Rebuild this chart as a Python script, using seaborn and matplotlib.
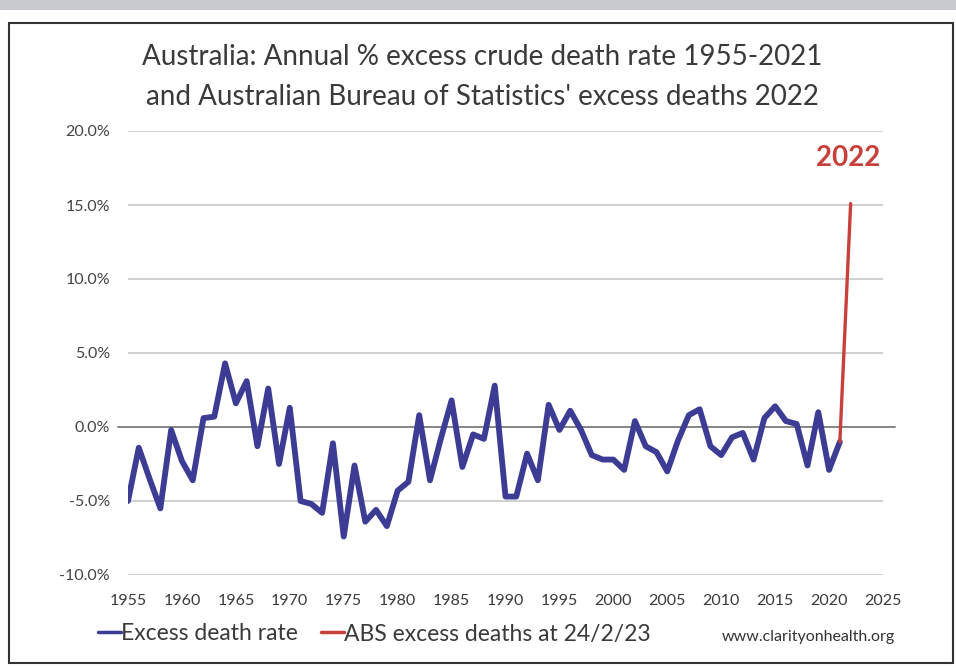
# australia excess death rate chart
# recreated with seaborn

import numpy as np
import pandas as pd
import matplotlib
matplotlib.use('Agg')
import matplotlib.pyplot as plt
import seaborn as sns
from matplotlib.patches import Rectangle

# data (percent)
years = list(range(1955, 2022))
excess_rate = [-5.0, -1.4, -3.5, -5.5, -0.2, -2.3, -3.6, 0.6, 0.7, 4.3,
               1.6, 3.1, -1.3, 2.6, -2.5, 1.3, -5.0, -5.2, -5.8, -1.1,
               -7.4, -2.6, -6.4, -5.6, -6.7, -4.3, -3.7, 0.8, -3.6, -0.8,
               1.8, -2.7, -0.5, -0.8, 2.8, -4.7, -4.7, -1.8, -3.6, 1.5,
               -0.2, 1.1, -0.2, -1.9, -2.2, -2.2, -2.9, 0.4, -1.3, -1.7,
               -3.0, -0.9, 0.8, 1.2, -1.3, -1.9, -0.7, -0.4, -2.2, 0.6,
               1.4, 0.4, 0.2, -2.6, 1.0, -2.9, -1.0]

abs_years = [2021, 2022]
abs_excess = [-1.0, 15.1]

y_ticks = [-10, -5, 0, 5, 10, 15, 20]
x_ticks = list(range(1955, 2030, 5))

blue = '#3d3c95'
red = '#c8403b'
grey_text = '#3a3a3a'

df_rate = pd.DataFrame({'year': years, 'value': excess_rate})
df_abs = pd.DataFrame({'year': abs_years, 'value': abs_excess})

sns.set_theme(style='white')
plt.rcParams['font.family'] = ['Lato', 'DejaVu Sans']

W, H = 956, 668
fig = plt.figure(figsize=(W / 100, H / 100), dpi=100)
fig.patch.set_facecolor('white')

# plot area in pixel terms
left, right, top, bottom = 128, 883, 131, 575
ax = fig.add_axes([left / W, 1 - bottom / H, (right - left) / W, (bottom - top) / H])
ax.set_facecolor('white')

sns.lineplot(data=df_rate, x='year', y='value', color=blue, linewidth=4.2,
             ax=ax, label='Excess death rate', solid_joinstyle='round',
             solid_capstyle='round', zorder=3)
sns.lineplot(data=df_abs, x='year', y='value', color=red, linewidth=2.4,
             ax=ax, label='ABS excess deaths at 24/2/23', zorder=4)

ax.set_xlim(1955, 2025)
ax.set_ylim(-10, 20)
ax.set_xticks(x_ticks)
ax.set_yticks(y_ticks)
ax.set_yticklabels([f'{v:.1f}%' for v in y_ticks])
ax.tick_params(axis='y', length=0, pad=13, labelsize=11.5, labelcolor='#444444')
ax.tick_params(axis='x', length=0, pad=14, labelsize=11.5, labelcolor='#3a3a3a')
ax.set_xlabel('')
ax.set_ylabel('')
for s in ax.spines.values():
    s.set_visible(False)

# gridlines, zero line darker and a bit longer
for v in y_ticks:
    if v != 0:
        ax.axhline(v, color='#d0d0d0', linewidth=1.4, zorder=1)
ax.plot([-0.013, 1.016], [0, 0], color='#858585', linewidth=1.4, zorder=2,
        transform=ax.get_yaxis_transform(), clip_on=False)

# 2022 label above the red line
ax.text(abs_years[-1] - 0.2, abs_excess[-1] + 3.1, '2022', color=red,
        fontsize=20, fontweight='bold', ha='center', va='center')

# legend
leg = ax.legend(loc='center left', bbox_to_anchor=(98 / W, 1 - 634 / H),
                bbox_transform=fig.transFigure, ncol=2, frameon=False,
                fontsize=16.5, handlelength=1.0, handletextpad=0.0,
                columnspacing=1.0, borderaxespad=0, borderpad=0)
for t in leg.get_texts():
    t.set_color(grey_text)
for h in leg.get_lines():
    h.set_linewidth(2.5)

fig.text(808 / W, 1 - 637 / H, 'www.clarityonhealth.org', fontsize=11.5,
         color='#333333', ha='center', va='center')

# title
fig.text(482 / W, 1 - 57 / H, 'Australia: Annual % excess crude death rate 1955-2021',
         fontsize=20, color=grey_text, ha='center', va='center')
fig.text(482 / W, 1 - 97 / H, "and Australian Bureau of Statistics' excess deaths 2022",
         fontsize=20, color=grey_text, ha='center', va='center')

# frame and grey strip on top
fig.add_artist(Rectangle((0, 1 - 10 / H), 1, 10 / H, transform=fig.transFigure,
                         facecolor='#c9cacf', edgecolor='none'))
fig.add_artist(Rectangle((9 / W, 1 - 663 / H), (953 - 9) / W, (663 - 23) / H,
                         transform=fig.transFigure, fill=False,
                         edgecolor='#333333', linewidth=1.5))

plt.savefig('out.png', dpi=100)
plt.close()
